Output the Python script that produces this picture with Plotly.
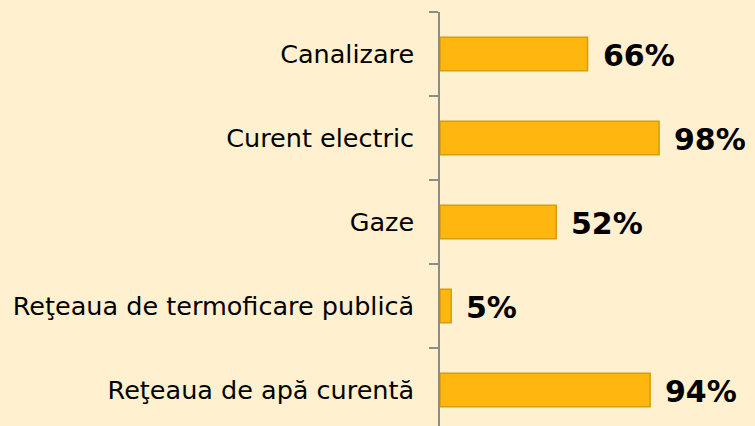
import plotly.graph_objects as go

categories = ["Canalizare", "Curent electric", "Gaze",
              "Reţeaua de termoficare publică", "Reţeaua de apă curentă"]
values = [66, 98, 52, 5, 94]
labels = [f"{v}%" for v in values]

BG = "#FFF0D0"
fig = go.Figure(go.Bar(
    x=values, y=categories, orientation="h",
    marker=dict(color="#FFB60F", line=dict(color="#D49E0A", width=1.5)),
    width=0.4,
))
for c, v, t in zip(categories, values, labels):
    fig.add_annotation(x=v, y=c, text=f"<b>{t}</b>", showarrow=False,
                       xanchor="left", xshift=13, yshift=-1,
                       font=dict(family="DejaVu Sans", size=30, color="black"))

fig.update_layout(
    width=755, height=426,
    paper_bgcolor=BG, plot_bgcolor=BG,
    margin=dict(l=440, r=0, t=12, b=0),
    showlegend=False,
    font=dict(family="DejaVu Sans", size=25.5, color="black"),
)
fig.update_xaxes(range=[0, 140.9], visible=False)
fig.update_yaxes(
    type="category", range=[4.4286, -0.5],
    showline=True, linecolor="#8C8C8C", linewidth=1.5,
    ticks="outside", tickson="boundaries", ticklen=9, tickcolor="#8C8C8C", tickwidth=1.5,
    ticklabelstandoff=19, showgrid=False, zeroline=False,
)
fig.write_html("out.html", config={"displayModeBar": False},
               post_script="document.body.style.margin='0';")
